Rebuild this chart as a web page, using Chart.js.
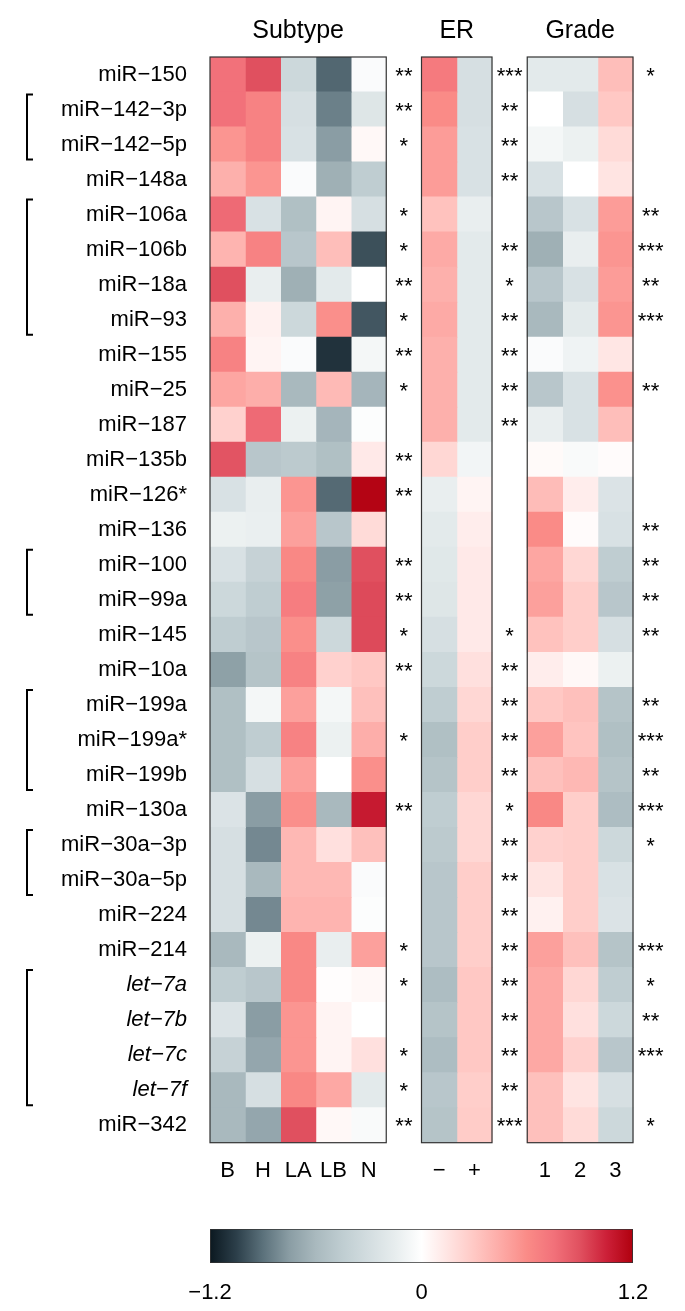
<!DOCTYPE html>
<html>
<head>
<meta charset="utf-8">
<script src="https://cdn.jsdelivr.net/npm/chart.js@4/dist/chart.umd.min.js"></script>
<style>
body { margin: 0; background: #fff; }
#heat { position: absolute; left: 0; top: 0; }
#bar { position: absolute; left: 0; top: 1200px; }
</style>
</head>
<body>
<canvas id="heat" width="685" height="1200"></canvas>
<canvas id="bar" width="685" height="111"></canvas>
<script>
const rowNames = [
	"miR−150", "miR−142−3p", "miR−142−5p", "miR−148a", "miR−106a", "miR−106b",
	"miR−18a", "miR−93", "miR−155", "miR−25", "miR−187", "miR−135b", "miR−126*",
	"miR−136", "miR−100", "miR−99a", "miR−145", "miR−10a", "miR−199a", "miR−199a*",
	"miR−199b", "miR−130a", "miR−30a−3p", "miR−30a−5p", "miR−224", "miR−214",
	"let−7a", "let−7b", "let−7c", "let−7f", "miR−342",
];
const italicRows = ["let−7a", "let−7b", "let−7c", "let−7f"];

const subtypeCols = ["B", "H", "LA", "LB", "N"];
const erCols = ["−", "+"];
const gradeCols = ["1", "2", "3"];

// one row per miRNA, columns as above
const subtypeValues = [
	[0.75, 0.9, -0.35, -0.93, -0.03],
	[0.75, 0.65, -0.28, -0.85, -0.22],
	[0.55, 0.65, -0.26, -0.75, 0.04],
	[0.42, 0.55, -0.03, -0.65, -0.45],
	[0.78, -0.26, -0.55, 0.06, -0.28],
	[0.4, 0.65, -0.5, 0.35, -1.0],
	[0.9, -0.14, -0.65, -0.18, 0],
	[0.42, 0.08, -0.35, 0.58, -0.98],
	[0.65, 0.06, -0.03, -1.1, -0.07],
	[0.47, 0.43, -0.6, 0.37, -0.62],
	[0.25, 0.78, -0.12, -0.62, -0.02],
	[0.88, -0.5, -0.47, -0.55, 0.12],
	[-0.26, -0.14, 0.55, -0.92, 1.18],
	[-0.12, -0.13, 0.5, -0.5, 0.2],
	[-0.26, -0.4, 0.62, -0.75, 0.9],
	[-0.35, -0.45, 0.68, -0.73, 0.92],
	[-0.45, -0.5, 0.58, -0.35, 0.92],
	[-0.73, -0.52, 0.65, 0.25, 0.3],
	[-0.55, -0.07, 0.5, -0.07, 0.34],
	[-0.55, -0.45, 0.65, -0.12, 0.43],
	[-0.55, -0.28, 0.5, 0, 0.58],
	[-0.24, -0.75, 0.58, -0.6, 1.08],
	[-0.28, -0.82, 0.38, 0.17, 0.34],
	[-0.28, -0.6, 0.38, 0.38, -0.03],
	[-0.28, -0.82, 0.4, 0.4, -0.02],
	[-0.6, -0.12, 0.62, -0.14, 0.5],
	[-0.45, -0.5, 0.62, 0.01, 0.04],
	[-0.24, -0.75, 0.55, 0.06, 0],
	[-0.4, -0.7, 0.55, 0.06, 0.17],
	[-0.6, -0.28, 0.62, 0.46, -0.18],
	[-0.6, -0.7, 0.9, 0.04, -0.04],
];
const erValues = [
	[0.7, -0.28], [0.6, -0.28], [0.52, -0.26], [0.52, -0.26], [0.33, -0.14],
	[0.45, -0.18], [0.42, -0.18], [0.45, -0.18], [0.42, -0.18], [0.42, -0.18],
	[0.42, -0.18], [0.22, -0.08], [-0.14, 0.06], [-0.18, 0.1], [-0.2, 0.12],
	[-0.22, 0.12], [-0.28, 0.12], [-0.35, 0.17], [-0.45, 0.22], [-0.55, 0.27],
	[-0.52, 0.27], [-0.45, 0.22], [-0.47, 0.22], [-0.5, 0.27], [-0.5, 0.27],
	[-0.5, 0.27], [-0.57, 0.3], [-0.52, 0.3], [-0.57, 0.3], [-0.5, 0.27],
	[-0.52, 0.28],
];
const gradeValues = [
	[-0.18, -0.18, 0.35], [0, -0.28, 0.3], [-0.07, -0.12, 0.2], [-0.26, 0, 0.15],
	[-0.5, -0.26, 0.52], [-0.65, -0.14, 0.55], [-0.5, -0.26, 0.52], [-0.6, -0.18, 0.55],
	[-0.03, -0.1, 0.14], [-0.5, -0.26, 0.57], [-0.14, -0.26, 0.35], [0.03, -0.04, 0.02],
	[0.36, 0.1, -0.24], [0.6, 0.02, -0.26], [0.47, 0.22, -0.45], [0.5, 0.27, -0.5],
	[0.33, 0.27, -0.28], [0.1, 0.04, -0.12], [0.3, 0.34, -0.52], [0.5, 0.32, -0.55],
	[0.34, 0.38, -0.52], [0.62, 0.27, -0.57], [0.25, 0.27, -0.35], [0.15, 0.27, -0.26],
	[0.08, 0.27, -0.24], [0.5, 0.34, -0.52], [0.46, 0.22, -0.45], [0.46, 0.17, -0.35],
	[0.46, 0.25, -0.5], [0.34, 0.15, -0.28], [0.34, 0.2, -0.35],
];

const subtypeStars = ["**", "**", "*", "", "*", "*", "**", "*", "**", "*", "", "**", "**", "", "**", "**",
	"*", "**", "", "*", "", "**", "", "", "", "*", "*", "", "*", "*", "**"];
const erStars = ["***", "**", "**", "**", "", "**", "*", "**", "**", "**", "**", "", "", "", "", "",
	"*", "**", "**", "**", "**", "*", "**", "**", "**", "**", "**", "**", "**", "**", "***"];
const gradeStars = ["*", "", "", "", "**", "***", "**", "***", "", "**", "", "", "", "**", "**", "**",
	"**", "", "**", "***", "**", "***", "*", "", "", "***", "*", "**", "***", "", "*"];

// bracketed families (first row, last row)
const bracketGroups = [[1, 2], [4, 7], [14, 15], [18, 20], [22, 23], [26, 29]];

const scaleTicks = [-1.2, 0, 1.2];

// colour map
const cmapStops = [-1.2, -1.05, -0.9, -0.75, -0.6, -0.45, -0.3, -0.15, 0, 0.15, 0.3, 0.45, 0.6, 0.75, 0.9, 1.05, 1.2];
const cmapColors = ["#0b1820", "#2c3f4a", "#5b717b", "#8a9da4", "#a9b9be", "#bfcdd1", "#d3dde0", "#e7edee",
	"#ffffff", "#ffe4e2", "#ffc8c4", "#fdaaa6", "#fa8b87", "#f2717a", "#e0505f", "#cc2038", "#b0000e"];

function hexRgb(h) {
	return [parseInt(h.slice(1, 3), 16), parseInt(h.slice(3, 5), 16), parseInt(h.slice(5, 7), 16)];
}
function colorFor(v) {
	if (v <= cmapStops[0]) return cmapColors[0];
	for (let i = 1; i < cmapStops.length; i++) {
		if (v <= cmapStops[i]) {
			const t = (v - cmapStops[i - 1]) / (cmapStops[i] - cmapStops[i - 1]);
			const a = hexRgb(cmapColors[i - 1]), b = hexRgb(cmapColors[i]);
			const c = a.map((x, k) => Math.round(x + (b[k] - x) * t));
			return "rgb(" + c.join(",") + ")";
		}
	}
	return cmapColors[cmapColors.length - 1];
}

const FONT = "'Liberation Sans', Arial, sans-serif";

const panels = [
	{ title: "Subtype", cols: subtypeCols, vals: subtypeValues, stars: subtypeStars, start: 0 },
	{ title: "ER", cols: erCols, vals: erValues, stars: erStars, start: 6 },
	{ title: "Grade", cols: gradeCols, vals: gradeValues, stars: gradeStars, start: 9 },
];

const datasets = [];
const tickPos = [];
const tickText = [];
panels.forEach(function (p) {
	p.cols.forEach(function (c, j) {
		const x0 = p.start + j;
		tickPos.push(x0 + 0.5);
		tickText.push(c);
		datasets.push({
			label: c,
			data: p.vals.map(() => [x0, x0 + 1]),
			backgroundColor: p.vals.map((row) => colorFor(row[j])),
			borderWidth: 0,
			grouped: false,
			barPercentage: 1,
			categoryPercentage: 1,
			inflateAmount: 0.5,
		});
	});
});

const decorations = {
	id: "decorations",
	afterDatasetsDraw(chart) {
		const ctx = chart.ctx;
		const x = chart.scales.x;
		const y = chart.scales.y;
		const top = chart.chartArea.top;
		const bottom = chart.chartArea.bottom;
		ctx.save();
		panels.forEach(function (p) {
			const left = x.getPixelForValue(p.start);
			const right = x.getPixelForValue(p.start + p.cols.length);
			// frame
			ctx.strokeStyle = "#333";
			ctx.lineWidth = 1.2;
			ctx.strokeRect(left, top, right - left, bottom - top);
			// title
			ctx.fillStyle = "#000";
			ctx.font = "25px " + FONT;
			ctx.textAlign = "center";
			ctx.textBaseline = "middle";
			ctx.fillText(p.title, (left + right) / 2, 31);
			// significance stars
			const sx = x.getPixelForValue(p.start + p.cols.length + 0.5);
			ctx.font = "22px " + FONT;
			ctx.textBaseline = "alphabetic";
			p.stars.forEach(function (s, r) {
				if (s) ctx.fillText(s, sx, y.getPixelForValue(r) + 8);
			});
		});
		// brackets
		ctx.strokeStyle = "#000";
		ctx.lineWidth = 2;
		bracketGroups.forEach(function (g) {
			const y0 = y.getPixelForValue(g[0]) - 15;
			const y1 = y.getPixelForValue(g[1]) + 15;
			ctx.beginPath();
			ctx.moveTo(33, y0);
			ctx.lineTo(27, y0);
			ctx.lineTo(27, y1);
			ctx.lineTo(33, y1);
			ctx.stroke();
		});
		ctx.restore();
	},
};

new Chart(document.getElementById("heat"), {
	type: "bar",
	data: { labels: rowNames, datasets: datasets },
	options: {
		indexAxis: "y",
		responsive: false,
		animation: false,
		devicePixelRatio: 1,
		layout: { padding: { left: 0, right: 16.75, top: 57, bottom: 0 } },
		plugins: { legend: { display: false }, tooltip: { enabled: false } },
		scales: {
			x: {
				type: "linear",
				min: 0,
				max: 13,
				grid: { display: false, drawTicks: false },
				border: { display: false },
				afterBuildTicks: (s) => {
					s.ticks = tickPos.map((v) => ({ value: v }));
				},
				afterFit: (s) => {
					s.height = 57.3;
				},
				ticks: {
					autoSkip: false,
					maxRotation: 0,
					padding: 15,
					color: "#000",
					font: { family: FONT, size: 22 },
					callback: (v, i) => tickText[i],
				},
			},
			y: {
				type: "category",
				grid: { display: false, drawTicks: false },
				border: { display: false },
				afterFit: (s) => {
					s.width = 210;
				},
				ticks: {
					autoSkip: false,
					padding: 23,
					color: "#000",
					font: (c) => ({
						family: FONT,
						size: 22,
						style: italicRows.includes(rowNames[c.index]) ? "italic" : "normal",
					}),
				},
			},
		},
	},
	plugins: [decorations],
});

// colour key
function keyGradient(context) {
	const area = context.chart.chartArea;
	if (!area) return "#ccc";
	const g = context.chart.ctx.createLinearGradient(area.left, 0, area.right, 0);
	cmapStops.forEach((v, i) => g.addColorStop((v + 1.2) / 2.4, cmapColors[i]));
	return g;
}

new Chart(document.getElementById("bar"), {
	type: "bar",
	data: {
		labels: [""],
		datasets: [{
			data: [[-1.2, 1.2]],
			backgroundColor: keyGradient,
			borderColor: "#333",
			borderWidth: 1.2,
			borderSkipped: false,
			barPercentage: 1,
			categoryPercentage: 1,
		}],
	},
	options: {
		indexAxis: "y",
		responsive: false,
		animation: false,
		devicePixelRatio: 1,
		layout: { padding: { left: 210, right: 52, top: 29, bottom: 0 } },
		plugins: { legend: { display: false }, tooltip: { enabled: false } },
		scales: {
			x: {
				type: "linear",
				min: -1.2,
				max: 1.2,
				grid: { display: false, drawTicks: false },
				border: { display: false },
				afterBuildTicks: (s) => {
					s.ticks = scaleTicks.map((v) => ({ value: v }));
				},
				afterFit: (s) => {
					s.height = 48;
				},
				ticks: {
					autoSkip: false,
					maxRotation: 0,
					padding: 17,
					color: "#000",
					font: { family: FONT, size: 22 },
					callback: (v) => (v < 0 ? "−" + Math.abs(v) : String(v)),
				},
			},
			y: { display: false },
		},
	},
});
</script>
</body>
</html>
